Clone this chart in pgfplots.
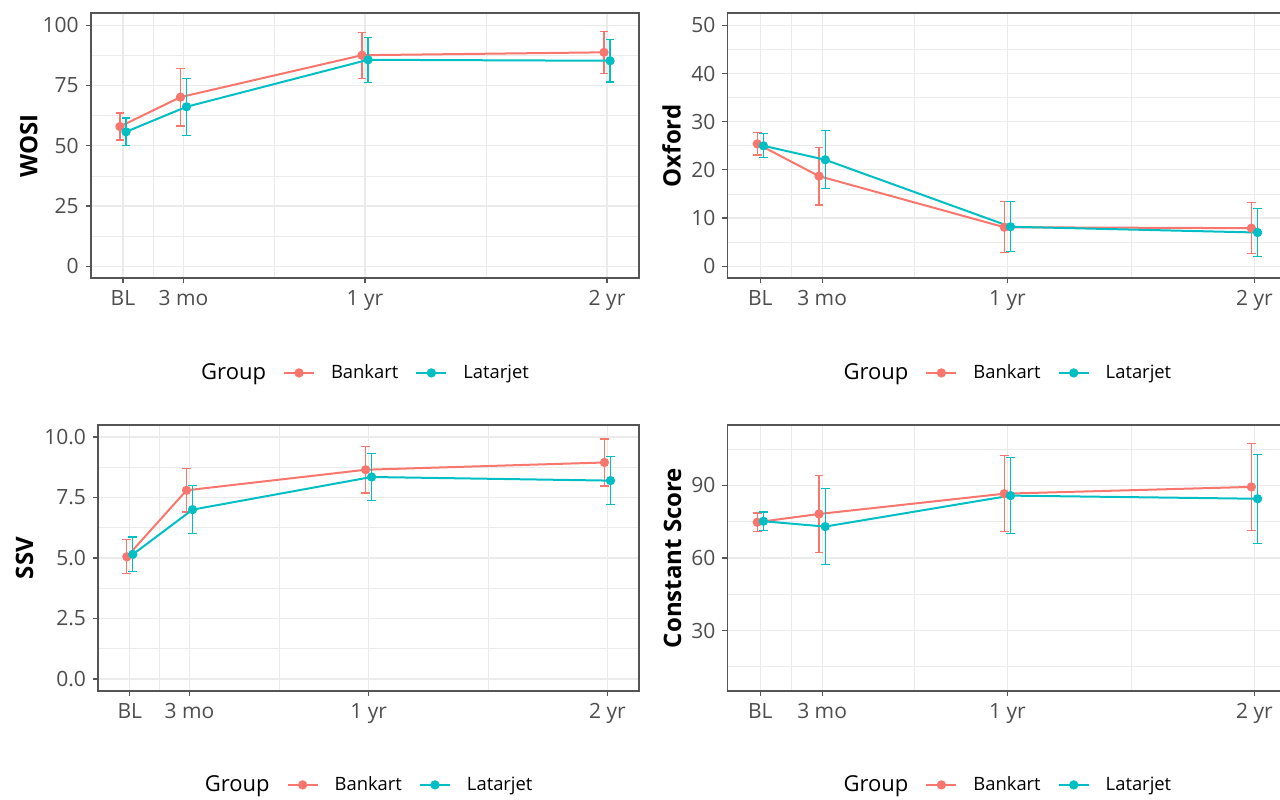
\documentclass[border=0pt]{standalone}
\usepackage{fontspec}
\setmainfont{Open Sans}
\usepackage{pgfplots}
\pgfplotsset{compat=1.18}
\definecolor{bk}{HTML}{F8766D}
\definecolor{lt}{HTML}{00BFC4}
\definecolor{tickc}{HTML}{4D4D4D}
\definecolor{gridc}{HTML}{EBEBEB}
\definecolor{framec}{HTML}{555555}
\pgfplotsset{
  panel/.style={
    scale only axis,
    anchor=south west,
    /pgf/number format/assume math mode=true,
    xmin=-1.6, xmax=25.6,
    xtick={0,3,12,24}, xticklabels={BL,3 mo,1 yr,2 yr},
    minor xtick={1.5,7.5,18},
    grid=both,
    major grid style={draw=gridc, line width=0.6pt},
    minor grid style={draw=gridc, line width=0.35pt},
    axis line style={draw=framec, line width=0.9pt},
    tick style={draw=framec, line width=0.6pt},
    major tick length=2.5pt, minor tick length=0pt,
    tick align=outside, xtick pos=left, ytick pos=left,
    ticklabel style={font=\fontsize{10.5}{12}\selectfont, text=tickc},
    ylabel style={anchor=center, font=\bfseries\fontsize{12}{14}\selectfont},
    legend columns=3,
    legend image code/.code={\draw[mark repeat=2,mark phase=2,##1] plot coordinates {(0pt,0pt) (7.5pt,0pt) (15pt,0pt)};},
    legend style={draw=none, fill=none, anchor=center,
      font=\fontsize{9.2}{11}\selectfont,
      nodes={inner xsep=0pt, inner ysep=1pt},
      /tikz/every odd column/.append style={column sep=8pt},
      /tikz/every even column/.append style={column sep=8.5pt}},
  },
  bser/.style={color=bk, line width=1pt, mark=*, mark size=1.8pt, mark options={solid, fill=bk},
    error bars/.cd, y dir=both, y explicit,
    error bar style={color=bk, line width=0.6pt},
    error mark options={rotate=90, mark size=2.2pt, line width=0.6pt, color=bk}},
  lser/.style={color=lt, line width=1pt, mark=*, mark size=1.8pt, mark options={solid, fill=lt},
    error bars/.cd, y dir=both, y explicit,
    error bar style={color=lt, line width=0.6pt},
    error mark options={rotate=90, mark size=2.2pt, line width=0.6pt, color=lt}},
}
\begin{document}
\begin{tikzpicture}
\useasboundingbox (0,0) rectangle (640pt,399.5pt);
% ---- WOSI ----
\begin{axis}[panel, at={(45.35pt,260.35pt)}, width=274.3pt, height=132.5pt,
  ymin=-5, ymax=105, ytick={0,25,50,75,100},
  minor ytick={12.5,37.5,62.5,87.5},
  ylabel={WOSI}, ylabel style={at={(axis description cs:-0.113,0.5)}},
  legend style={at={(axis description cs:0.4855,-0.357)}}]
\addlegendimage{empty legend}\addlegendentry{\fontsize{11}{13}\selectfont Group}
\addplot[bser] table[x=x,y=y,y error=e] {
x y e
-0.15 58.0 5.6
2.85 70.2 12.0
11.85 87.6 9.5
23.85 88.8 8.7
};
\addlegendentry{Bankart}
\addplot[lser] table[x=x,y=y,y error=e] {
x y e
0.15 55.8 5.7
3.15 66.2 11.8
12.15 85.7 9.3
24.15 85.3 8.8
};
\addlegendentry{Latarjet}
\end{axis}
% ---- Oxford ----
\begin{axis}[panel, at={(363.7pt,260.35pt)}, width=280pt, height=132.5pt,
  ymin=-2.5, ymax=52.5, ytick={0,10,20,30,40,50},
  minor ytick={5,15,25,35,45},
  ylabel={Oxford}, ylabel style={at={(axis description cs:-0.0998,0.5)}},
  legend style={at={(axis description cs:0.4857,-0.357)}}]
\addlegendimage{empty legend}\addlegendentry{\fontsize{11}{13}\selectfont Group}
\addplot[bser] table[x=x,y=y,y error=e] {
x y e
-0.15 25.4 2.3
2.85 18.7 6.0
11.85 8.1 5.3
23.85 7.9 5.3
};
\addlegendentry{Bankart}
\addplot[lser] table[x=x,y=y,y error=e] {
x y e
0.15 25.0 2.5
3.15 22.1 6.0
12.15 8.2 5.2
24.15 7.0 5.0
};
\addlegendentry{Latarjet}
\end{axis}
% ---- SSV ----
\begin{axis}[panel, at={(49pt,54pt)}, width=270.65pt, height=133pt,
  ymin=-0.5, ymax=10.5, ytick={0,2.5,5,7.5,10},
  yticklabels={0.0,2.5,5.0,7.5,10.0},
  minor ytick={1.25,3.75,6.25,8.75},
  ylabel={SSV}, ylabel style={at={(axis description cs:-0.1358,0.5)}},
  legend style={at={(axis description cs:0.4852,-0.353)}}]
\addlegendimage{empty legend}\addlegendentry{\fontsize{11}{13}\selectfont Group}
\addplot[bser] table[x=x,y=y,y error=e] {
x y e
-0.15 5.05 0.70
2.85 7.80 0.90
11.85 8.65 0.96
23.85 8.95 0.97
};
\addlegendentry{Bankart}
\addplot[lser] table[x=x,y=y,y error=e] {
x y e
0.15 5.15 0.72
3.15 7.00 1.00
12.15 8.35 0.98
24.15 8.20 1.00
};
\addlegendentry{Latarjet}
\end{axis}
% ---- Constant Score ----
\begin{axis}[panel, at={(363.7pt,54pt)}, width=280pt, height=133pt,
  ymin=5, ymax=115, ytick={30,60,90},
  minor ytick={15,45,75,105},
  ylabel={Constant Score}, ylabel style={at={(axis description cs:-0.098,0.5)}},
  legend style={at={(axis description cs:0.4857,-0.353)}}]
\addlegendimage{empty legend}\addlegendentry{\fontsize{11}{13}\selectfont Group}
\addplot[bser] table[x=x,y=y,y error=e] {
x y e
-0.15 74.8 3.8
2.85 78.2 16.0
11.85 86.6 15.8
23.85 89.4 18.0
};
\addlegendentry{Bankart}
\addplot[lser] table[x=x,y=y,y error=e] {
x y e
0.15 75.2 3.8
3.15 73.0 15.6
12.15 85.8 15.8
24.15 84.5 18.4
};
\addlegendentry{Latarjet}
\end{axis}
\end{tikzpicture}
\end{document}
